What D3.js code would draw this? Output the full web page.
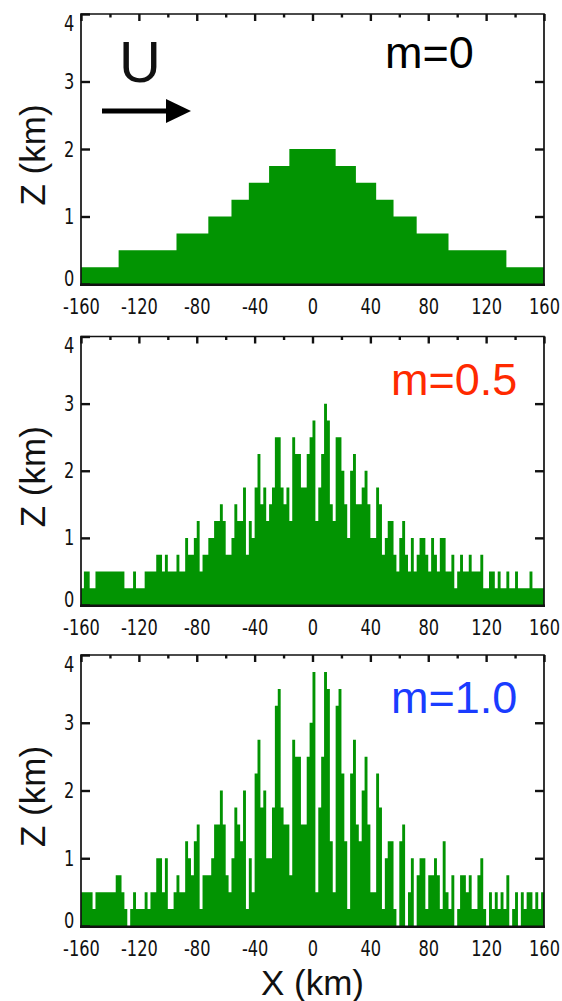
<!DOCTYPE html>
<html>
<head>
<meta charset="utf-8">
<script src="https://cdn.jsdelivr.net/npm/d3@7"></script>
<style>
  body { margin: 0; background: #fff; }
  svg { display: block; }
</style>
</head>
<body>
<script>
// Terrain profiles Z(x) for three roughness exponents m.
// m = 0 : smooth stepped hill, given as step edges (km) and heights (km)
const stepEdgesKm = [-160, -134, -94, -72, -56, -44, -30, -16, 16, 30, 44, 56, 72, 94, 134, 160];
const stepHeightsM0 = [0.25, 0.5, 0.75, 1, 1.25, 1.5, 1.75, 2, 1.75, 1.5, 1.25, 1, 0.75, 0.5, 0.25];

// m = 0.5 and m = 1.0 : rough profiles on 2 km columns starting at x = -160 km
const binWidthKm = 2;
const binStartKm = -160;
const heightsM05 = [
  0.25, 0.5, 0.5, 0.25, 0.25, 0.5, 0.5, 0.5, 0.5, 0.5,
  0.5, 0.5, 0.5, 0.5, 0.5, 0.25, 0.25, 0.25, 0.5, 0.25,
  0.25, 0.25, 0.5, 0.5, 0.5, 0.5, 0.75, 0.75, 0.5, 0.75,
  0.5, 0.5, 0.5, 0.75, 0.5, 0.5, 1, 0.75, 0.75, 1,
  1.25, 0.5, 0.75, 0.75, 1, 1, 1.25, 1.25, 1.5, 1.25,
  0.75, 0.75, 1, 1.5, 1.25, 1.25, 1.75, 0.75, 1.25, 1,
  1.75, 2.25, 1.5, 1.75, 1.25, 1.5, 1.75, 2.5, 2.5, 1.75,
  1.5, 1.75, 1.25, 2.5, 2.25, 2.25, 1.75, 1.75, 2.25, 2.5,
  2.75, 1.25, 1.75, 2.25, 3, 2.75, 1.5, 1.25, 2.5, 2.5,
  2, 1.5, 1, 2, 2.25, 1.5, 1.5, 1.75, 2, 1.5,
  1, 1, 1.75, 1.5, 0.75, 1, 1.25, 1.25, 0.75, 0.5,
  1, 1.25, 0.75, 0.5, 1, 0.5, 0.75, 1, 1, 0.75,
  0.5, 1, 0.75, 0.5, 1, 1, 0.5, 0.5, 0.75, 0.25,
  0.5, 0.75, 0.5, 0.5, 0.75, 0.5, 0.5, 0.5, 0.75, 0.25,
  0.25, 0.5, 0.5, 0.25, 0.5, 0.25, 0.25, 0.5, 0.25, 0.25,
  0.5, 0.25, 0.25, 0.25, 0.25, 0.5, 0.25, 0.25, 0.25, 0.25
];
const heightsM10 = [
  0.5, 0.5, 0.5, 0.5, 0.25, 0.5, 0.5, 0.5, 0.5, 0.5,
  0.5, 0.5, 0.75, 0.75, 0.5, 0.25, 0, 0.25, 0.5, 0.25,
  0.25, 0.25, 0.5, 0.25, 0.5, 0.5, 1, 1, 0.5, 1,
  0.25, 0.25, 0.5, 0.75, 0.5, 0.5, 1.25, 1, 0.75, 1.25,
  1.5, 0.25, 0.75, 0.75, 0.75, 1, 1.5, 1.5, 2, 1.5,
  0.75, 0.5, 1, 1.75, 1.5, 1.25, 2, 0.25, 1, 0.5,
  2.25, 2.75, 1.75, 2, 1, 1, 1.75, 3.25, 3.5, 1.75,
  1.5, 1.5, 0.75, 2.75, 2.5, 2.5, 1.5, 1.5, 2.5, 3,
  3.75, 0.5, 1.75, 2.5, 3.75, 3.5, 1.25, 0.5, 3.25, 3.5,
  2.25, 1.25, 0.25, 2.25, 2.75, 1.5, 1.25, 2, 2.5, 1.5,
  0.5, 0.5, 2.25, 1.75, 0.25, 1, 1.25, 1.25, 0.25, 0,
  1.25, 1.5, 0, 0.5, 1, 0, 0.75, 1, 1, 0.25,
  0.75, 0.75, 1, 0.75, 0.25, 1.25, 0.5, 0.25, 0.75, 0,
  0.25, 0.75, 0.75, 0.5, 0.75, 0.25, 0.25, 0.75, 1, 0.25,
  0, 0.5, 0.25, 0.5, 0.25, 0.5, 0.25, 0.75, 0, 0.25,
  0.5, 0, 0.5, 0.25, 0.5, 0.5, 0.25, 0.5, 0.25, 0.5
];

// Axis ticks and labels
const xDomainKm = [-160, 160];
const zDomainKm = [0, 4];
const xTickValues = [-160, -120, -80, -40, 0, 40, 80, 120, 160];
const xMinorTickValues = [-140, -100, -60, -20, 20, 60, 100, 140];
const zTickValues = [0, 1, 2, 3, 4];
const panelLabels = ["m=0", "m=0.5", "m=1.0"];
const panelLabelColors = ["#000000", "#ff2a00", "#1a3cff"];

// ---- drawing ----
const W = 562, H = 1001;
const terrainGreen = "#029402";
const tickFont = "'Liberation Sans Narrow', 'DejaVu Sans Condensed', sans-serif";
const mainFont = "'Liberation Sans', Arial, Helvetica, sans-serif";
const plainNumber = d => String(d);   // keeps an ASCII hyphen on negatives

const svg = d3.select("body").append("svg")
  .attr("width", W).attr("height", H)
  .attr("viewBox", `0 0 ${W} ${H}`);

const x = d3.scaleLinear().domain(xDomainKm).range([81, 544]);

const panels = [
  { top: 14,  bottom: 284,
    cols: stepHeightsM0.map((h, i) => ({ x0: stepEdgesKm[i], x1: stepEdgesKm[i + 1], h })) },
  { top: 336.5, bottom: 605,
    cols: heightsM05.map((h, i) => ({ x0: binStartKm + i * binWidthKm, x1: binStartKm + (i + 1) * binWidthKm, h })) },
  { top: 655, bottom: 926,
    cols: heightsM10.map((h, i) => ({ x0: binStartKm + i * binWidthKm, x1: binStartKm + (i + 1) * binWidthKm, h })) }
];
const labelPos = [
  { x: 385, y: 68 },
  { x: 391, y: 395 },
  { x: 391, y: 713 }
];

panels.forEach((p, k) => {
  const y = d3.scaleLinear().domain(zDomainKm).range([p.bottom, p.top]);
  const g = svg.append("g");

  // terrain columns as one stepped area (no seams between columns)
  const stepPts = p.cols.map(d => ({ xk: d.x0, h: d.h }))
    .concat([{ xk: p.cols[p.cols.length - 1].x1, h: p.cols[p.cols.length - 1].h }]);
  const terrain = d3.area()
    .x(d => x(d.xk))
    .y0(y(0))
    .y1(d => y(d.h))
    .curve(d3.curveStepAfter);
  g.append("path")
    .datum(stepPts)
    .attr("d", terrain)
    .attr("fill", terrainGreen);

  // bottom axis: labels only
  const xb = g.append("g")
    .attr("transform", `translate(0,${p.bottom})`)
    .call(d3.axisBottom(x).tickValues(xTickValues).tickSize(0).tickPadding(14)
      .tickFormat(plainNumber));
  xb.select(".domain").remove();
  xb.selectAll("text")
    .attr("font-family", tickFont).attr("font-size", 22).attr("fill", "#111")
    .attr("transform", "scale(0.82,1)");

  // top axis: inward major and minor ticks
  const xt = g.append("g").attr("transform", `translate(0,${p.top})`)
    .call(d3.axisTop(x).tickValues(xTickValues).tickSizeInner(-7).tickSizeOuter(0).tickFormat(""));
  xt.select(".domain").remove();
  const xtm = g.append("g").attr("transform", `translate(0,${p.top})`)
    .call(d3.axisTop(x).tickValues(xMinorTickValues).tickSizeInner(-3.5).tickSizeOuter(0).tickFormat(""));
  xtm.select(".domain").remove();

  // left axis: inward ticks with labels
  const yl = g.append("g").attr("transform", `translate(${x(xDomainKm[0])},0)`)
    .call(d3.axisLeft(y).tickValues(zTickValues).tickSizeInner(-9).tickSizeOuter(0).tickPadding(8)
      .tickFormat(plainNumber));
  yl.select(".domain").remove();
  yl.selectAll("text")
    .attr("font-family", tickFont).attr("font-size", 22).attr("fill", "#111")
    .attr("dy", d => d === 0 ? "0.05em" : d === 4 ? "0.73em" : "0.32em")
    .attr("transform", "scale(0.82,1)");

  // right axis: inward ticks
  const yr = g.append("g").attr("transform", `translate(${x(xDomainKm[1])},0)`)
    .call(d3.axisRight(y).tickValues(zTickValues.slice(1, -1)).tickSizeInner(-9).tickSizeOuter(0).tickFormat(""));
  yr.select(".domain").remove();

  g.selectAll(".tick line").attr("stroke", "#111").attr("stroke-width", 2.4);

  // frame
  const x0 = x(xDomainKm[0]), x1 = x(xDomainKm[1]);
  const frame = g.append("g").attr("stroke", "#111").attr("fill", "none");
  frame.append("path").attr("stroke-width", 1.7)
    .attr("d", `M${x0},${p.bottom}V${p.top}H${x1}V${p.bottom}`);
  frame.append("line").attr("stroke-width", 2.6)
    .attr("x1", x0 - 1).attr("x2", x1 + 1).attr("y1", p.bottom + 0.8).attr("y2", p.bottom + 0.8);

  // axis title
  svg.append("text")
    .attr("transform", `translate(45,${(p.top + p.bottom) / 2 + 6}) rotate(-90)`)
    .attr("text-anchor", "middle")
    .attr("font-family", mainFont).attr("font-size", 35).attr("fill", "#111")
    .text("Z (km)");

  // roughness label
  svg.append("text")
    .attr("x", labelPos[k].x).attr("y", labelPos[k].y)
    .attr("font-family", mainFont).attr("font-size", 45)
    .attr("fill", panelLabelColors[k])
    .text(panelLabels[k]);
});

// wind direction annotation
svg.append("text")
  .attr("x", 140).attr("y", 82).attr("text-anchor", "middle")
  .attr("font-family", mainFont).attr("font-size", 58).attr("font-weight", 300).attr("fill", "#111")
  .text("U");
svg.append("line")
  .attr("x1", 102).attr("x2", 168).attr("y1", 111).attr("y2", 111)
  .attr("stroke", "#000").attr("stroke-width", 5);
svg.append("path")
  .attr("d", "M166,99L191,111L166,123Z").attr("fill", "#000");

// x axis title
svg.append("text")
  .attr("x", (x(xDomainKm[0]) + x(xDomainKm[1])) / 2).attr("y", 995)
  .attr("text-anchor", "middle")
  .attr("font-family", mainFont).attr("font-size", 35).attr("fill", "#111")
  .text("X (km)");
</script>
</body>
</html>
